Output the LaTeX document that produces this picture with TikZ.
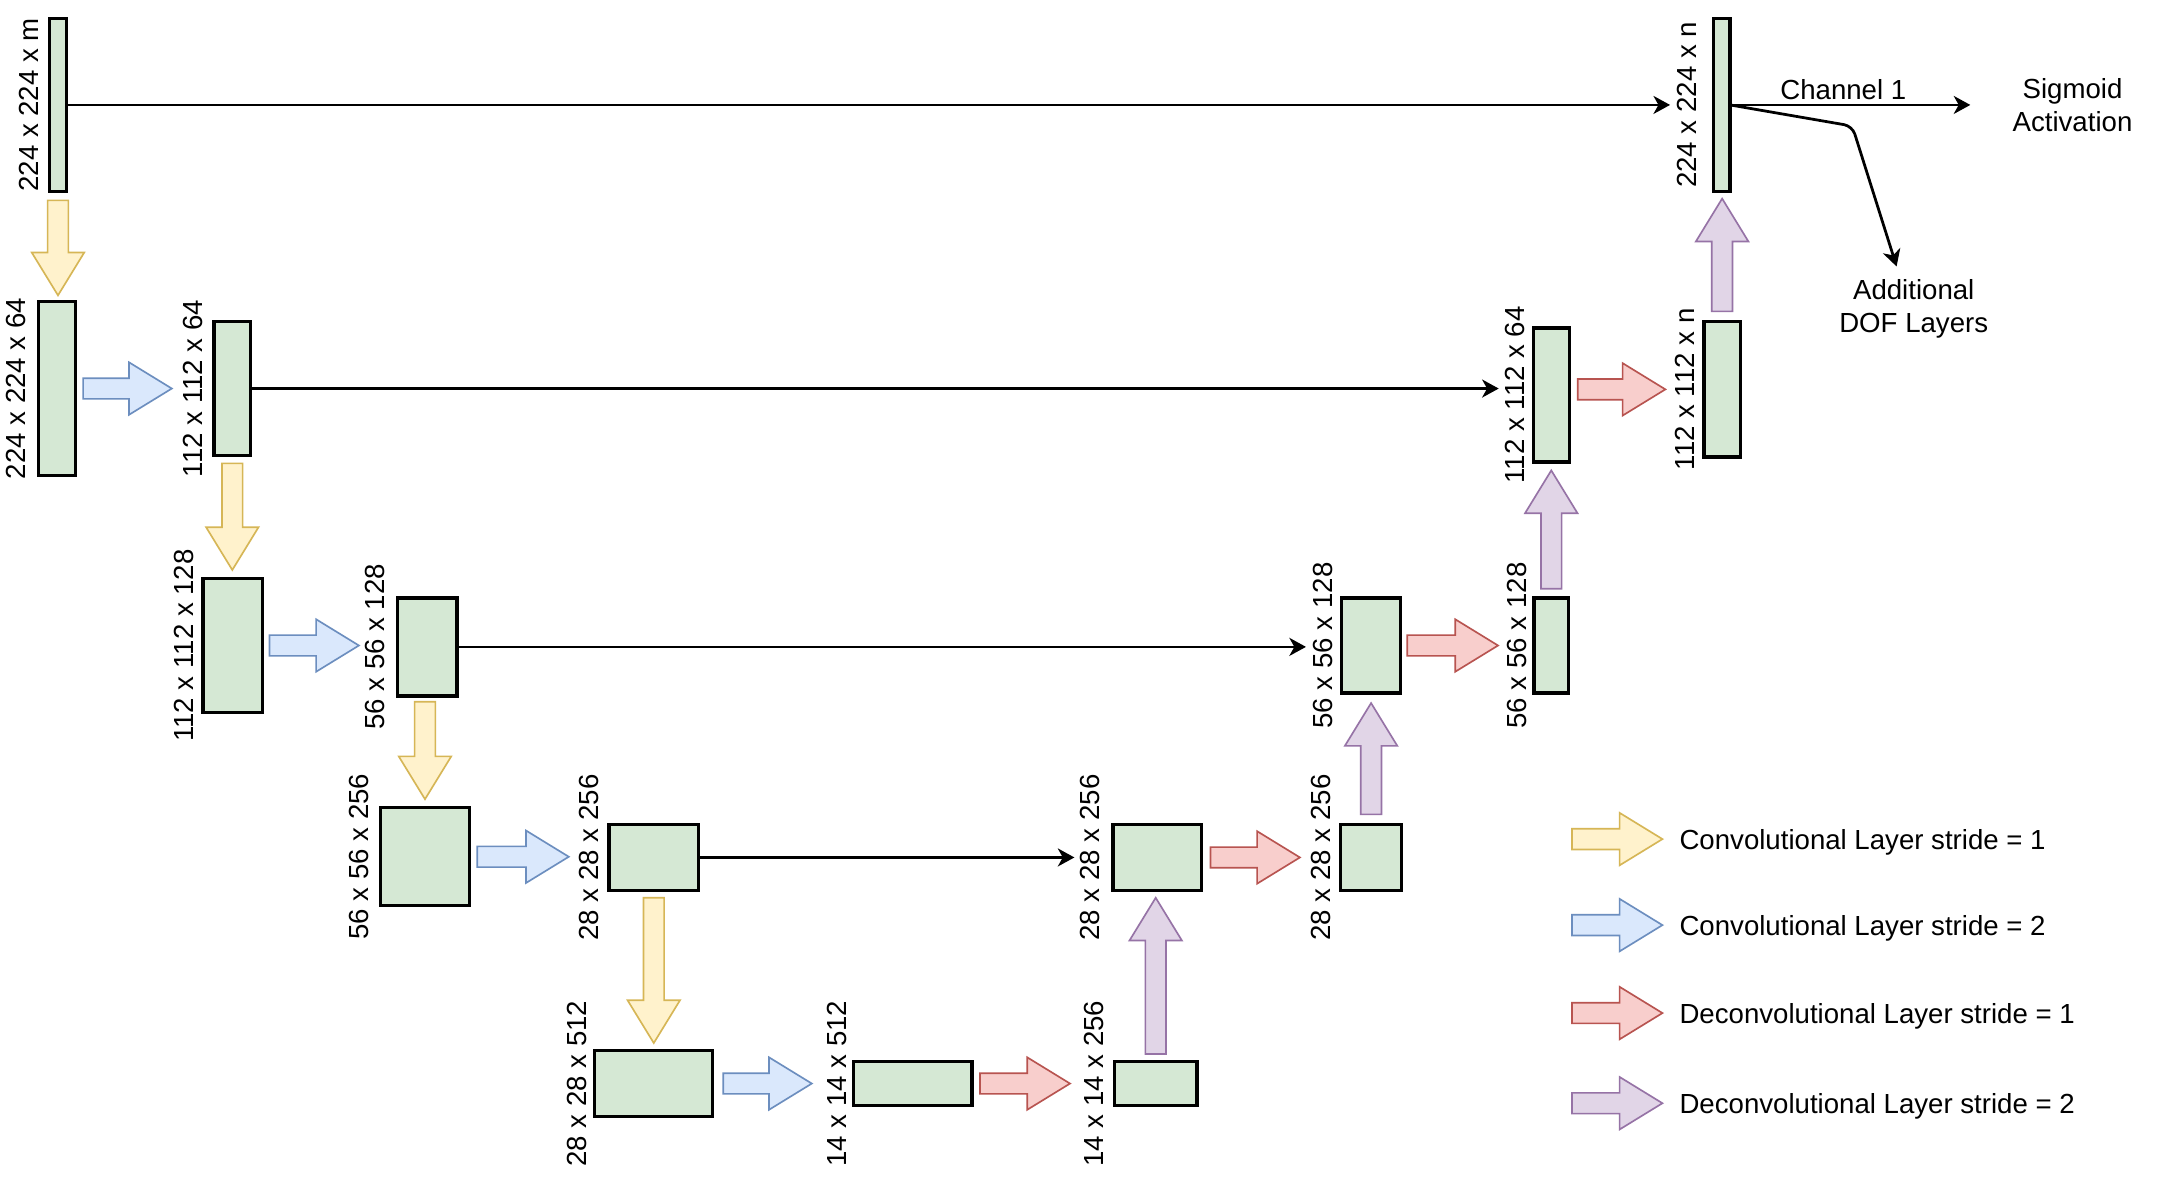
\documentclass[tikz,border=0pt]{standalone}
\usepackage{fontspec}
\setmainfont{Liberation Sans}
\usetikzlibrary{arrows.meta,calc}
\definecolor{boxfill}{HTML}{D5E8D4}
\definecolor{yfill}{HTML}{FFF2CC}\definecolor{ydraw}{HTML}{D6B656}
\definecolor{bfill}{HTML}{DAE8FC}\definecolor{bdraw}{HTML}{6C8EBF}
\definecolor{rfill}{HTML}{F8CECC}\definecolor{rdraw}{HTML}{B85450}
\definecolor{pfill}{HTML}{E1D5E7}\definecolor{pdraw}{HTML}{9673A6}
\newcommand{\blkR}[3]{\path[#1] let \p1=#2, \p2=#3 in
  (\x1,\y1+3.75pt) -- (\x2-15.5pt,\y1+3.75pt) -- (\x2-15.5pt,\y1+9.5pt) -- (\x2,\y1)
  -- (\x2-15.5pt,\y1-9.5pt) -- (\x2-15.5pt,\y1-3.75pt) -- (\x1,\y1-3.75pt) -- cycle;}
\newcommand{\blkD}[3]{\path[#1] let \p1=#2, \p2=#3 in
  (\x1-3.75pt,\y1) -- (\x1-3.75pt,\y2+15.5pt) -- (\x1-9.5pt,\y2+15.5pt) -- (\x1,\y2)
  -- (\x1+9.5pt,\y2+15.5pt) -- (\x1+3.75pt,\y2+15.5pt) -- (\x1+3.75pt,\y1) -- cycle;}
\newcommand{\blkU}[3]{\path[#1] let \p1=#2, \p2=#3 in
  (\x1-3.75pt,\y1) -- (\x1-3.75pt,\y2-15.5pt) -- (\x1-9.5pt,\y2-15.5pt) -- (\x1,\y2)
  -- (\x1+9.5pt,\y2-15.5pt) -- (\x1+3.75pt,\y2-15.5pt) -- (\x1+3.75pt,\y1) -- cycle;}
\begin{document}
\begin{tikzpicture}[x=0.5pt,y=-0.5pt,
  every node/.style={font=\fontsize{10}{12}\selectfont},
  box/.style={draw=black,line width=1.2pt,fill=boxfill,inner sep=0pt,outer sep=0pt},
  lab/.style={rotate=90,anchor=south,inner sep=0pt,outer sep=0pt},
  conn/.style={line width=1pt,-{Stealth[length=6pt,width=6.5pt,inset=1.8pt]}},
  ya/.style={fill=yfill,draw=ydraw,line width=0.6pt},
  ba/.style={fill=bfill,draw=bdraw,line width=0.6pt},
  ra/.style={fill=rfill,draw=rdraw,line width=0.6pt},
  pa/.style={fill=pfill,draw=pdraw,line width=0.6pt}]
\useasboundingbox[fill=white] (0,0) rectangle (1568,867);
% boxes
\node[box,minimum width=6pt,minimum height=62.75pt] (A) at (42,76) {};
\node[box,minimum width=6pt,minimum height=62.75pt] (TR) at (1247,76) {};
\node[box,minimum width=13.5pt,minimum height=63pt] (B) at (41.3,281.4) {};
\node[box,minimum width=13.25pt,minimum height=48.5pt] (C) at (168.25,281.4) {};
\node[box,minimum width=21.5pt,minimum height=48.5pt] (D) at (168.5,467.5) {};
\node[box,minimum width=21.5pt,minimum height=35.5pt] (E) at (309.5,468.5) {};
\node[box,minimum width=32pt,minimum height=35.5pt] (F) at (307.8,620.5) {};
\node[box,minimum width=32.5pt,minimum height=24pt] (G) at (473.5,621) {};
\node[box,minimum width=42.75pt,minimum height=23.75pt] (H) at (473.3,784.75) {};
\node[box,minimum width=43pt,minimum height=15.75pt] (I) at (661,784.75) {};
\node[box,minimum width=30pt,minimum height=15.75pt] (J) at (837,784.75) {};
\node[box,minimum width=32pt,minimum height=24pt] (K) at (838,621) {};
\node[box,minimum width=22pt,minimum height=24pt] (L) at (993,621) {};
\node[box,minimum width=21.5pt,minimum height=34.5pt] (M) at (993,467.5) {};
\node[box,minimum width=12.5pt,minimum height=34.5pt] (N) at (1123.5,467.5) {};
\node[box,minimum width=13pt,minimum height=48.5pt] (O) at (1123.6,286) {};
\node[box,minimum width=13.25pt,minimum height=49pt] (P) at (1247.25,282) {};
% labels
\node[lab] (labA) at ($(A.west)+(-7.8,0)$) {224 x 224 x m};
\node[lab] (labB) at ($(B.west)+(-8.8,0)$) {224 x 224 x 64};
\node[lab] (labC) at ($(C.west)+(-8,0)$) {112 x 112 x 64};
\node[lab] (labD) at ($(D.west)+(-6.5,0)$) {112 x 112 x 128};
\node[lab] (labE) at ($(E.west)+(-9,0)$) {56 x 56 x 128};
\node[lab] (labF) at ($(F.west)+(-9,0)$) {56 x 56 x 256};
\node[lab] (labG) at ($(G.west)+(-7,0)$) {28 x 28 x 256};
\node[lab] (labH) at ($(H.west)+(-5.7,0)$) {28 x 28 x 512};
\node[lab] (labI) at ($(I.west)+(-5,0)$) {14 x 14 x 512};
\node[lab] (labJ) at ($(J.west)+(-7.5,0)$) {14 x 14 x 256};
\node[lab] (labK) at ($(K.west)+(-9.7,0)$) {28 x 28 x 256};
\node[lab] (labL) at ($(L.west)+(-7,0)$) {28 x 28 x 256};
\node[lab] (labM) at ($(M.west)+(-6.5,0)$) {56 x 56 x 128};
\node[lab] (labN) at ($(N.west)+(-5.5,0)$) {56 x 56 x 128};
\node[lab] (labO) at ($(O.west)+(-6,0)$) {112 x 112 x 64};
\node[lab] (labP) at ($(P.west)+(-7,0)$) {112 x 112 x n};
\node[lab] (labTR) at ($(TR.west)+(-12.5,0)$) {224 x 224 x n};
% skip connectors
\draw[conn,shorten >=2.5pt] (A.east) -- (A.east -| labTR.north);
\draw[conn,shorten >=2.5pt] (C.east) -- (C.east -| labO.north);
\draw[conn,shorten >=2.5pt] (E.east) -- (E.east -| labM.north);
\draw[conn,shorten >=2pt] (G.east) -- (G.east -| labK.north);
% outputs
\coordinate (chend) at (1427,76);
\coordinate (bend) at (1341.5,91.3);
\coordinate (dofend) at (1373.6,193);
\draw[conn] (TR.east) -- (chend);
\draw[conn,rounded corners=3pt] (TR.east) -- (bend) -- (dofend);
\node[anchor=base] (ch1) at (1335,71.7) {Channel 1};
\node[align=center,inner sep=0pt] (sig) at (1501,76.3) {Sigmoid\\Activation};
\node[align=center,inner sep=0pt] (dof) at (1386,224) {Additional\\DOF Layers};
% block arrows
\blkD{ya}{($(A.south)+(0,6.4)$)}{($(B.north)+(0,-4.5)$)}
\blkR{ba}{($(B.east)+(5.4,0)$)}{($(labC.north |- B.east)+(-8.4,0)$)}
\blkD{ya}{($(C.south)+(0,5.7)$)}{($(D.north)+(0,-6.2)$)}
\blkR{ba}{($(D.east)+(5.2,0)$)}{($(labE.north |- D.east)+(-4.9,0)$)}
\blkD{ya}{($(E.south -| F.north)+(0,4.2)$)}{($(F.north)+(0,-6.2)$)}
\blkR{ba}{($(F.east)+(5.8,0)$)}{($(labG.north |- F.east)+(-7.9,0)$)}
\blkD{ya}{($(G.south)+(0,5.2)$)}{($(H.north)+(0,-5.6)$)}
\blkR{ba}{($(H.east)+(7.8,0)$)}{($(labI.north |- H.east)+(-10.9,0)$)}
\blkR{ra}{($(I.east)+(5.7,0)$)}{($(labJ.north |- I.east)+(-10.4,0)$)}
\blkU{pa}{($(J.north)+(0,-5.7)$)}{($(K.south)+(0,5.2)$)}
\blkR{ra}{($(K.east)+(6.7,0)$)}{($(labL.north |- K.east)+(-8.4,0)$)}
\blkU{pa}{($(L.north)+(0,-7.2)$)}{($(M.south)+(0,7.2)$)}
\blkR{ra}{($(M.east)+(4.7,0)$)}{($(labN.north |- M.east)+(-6.4,0)$)}
\blkU{pa}{($(N.north)+(0,-6.6)$)}{($(O.south)+(0,6.2)$)}
\blkR{ra}{($(O.east |- P.west)+(6.1,0)$)}{($(labP.north |- P.west)+(-6.9,0)$)}
\blkU{pa}{($(P.north)+(0,-7.5)$)}{($(TR.south)+(0,5.1)$)}
% legend
\coordinate (l1a) at (1138.5,607.7); \coordinate (l1b) at (1204,607.7);
\coordinate (l2a) at (1138.5,670); \coordinate (l2b) at (1204,670);
\coordinate (l3a) at (1138.5,733.7); \coordinate (l3b) at (1204,733.7);
\coordinate (l4a) at (1138.5,799); \coordinate (l4b) at (1204,799);
\blkR{ya}{(l1a)}{(l1b)}
\blkR{ba}{(l2a)}{(l2b)}
\blkR{ra}{(l3a)}{(l3b)}
\blkR{pa}{(l4a)}{(l4b)}
\node[anchor=base west,inner sep=0pt] (t1) at (1216,614.9) {Convolutional Layer stride = 1};
\node[anchor=base west,inner sep=0pt] (t2) at (1216,677.2) {Convolutional Layer stride = 2};
\node[anchor=base west,inner sep=0pt] (t3) at (1216,740.9) {Deconvolutional Layer stride = 1};
\node[anchor=base west,inner sep=0pt] (t4) at (1216,806.2) {Deconvolutional Layer stride = 2};
\end{tikzpicture}
\end{document}
